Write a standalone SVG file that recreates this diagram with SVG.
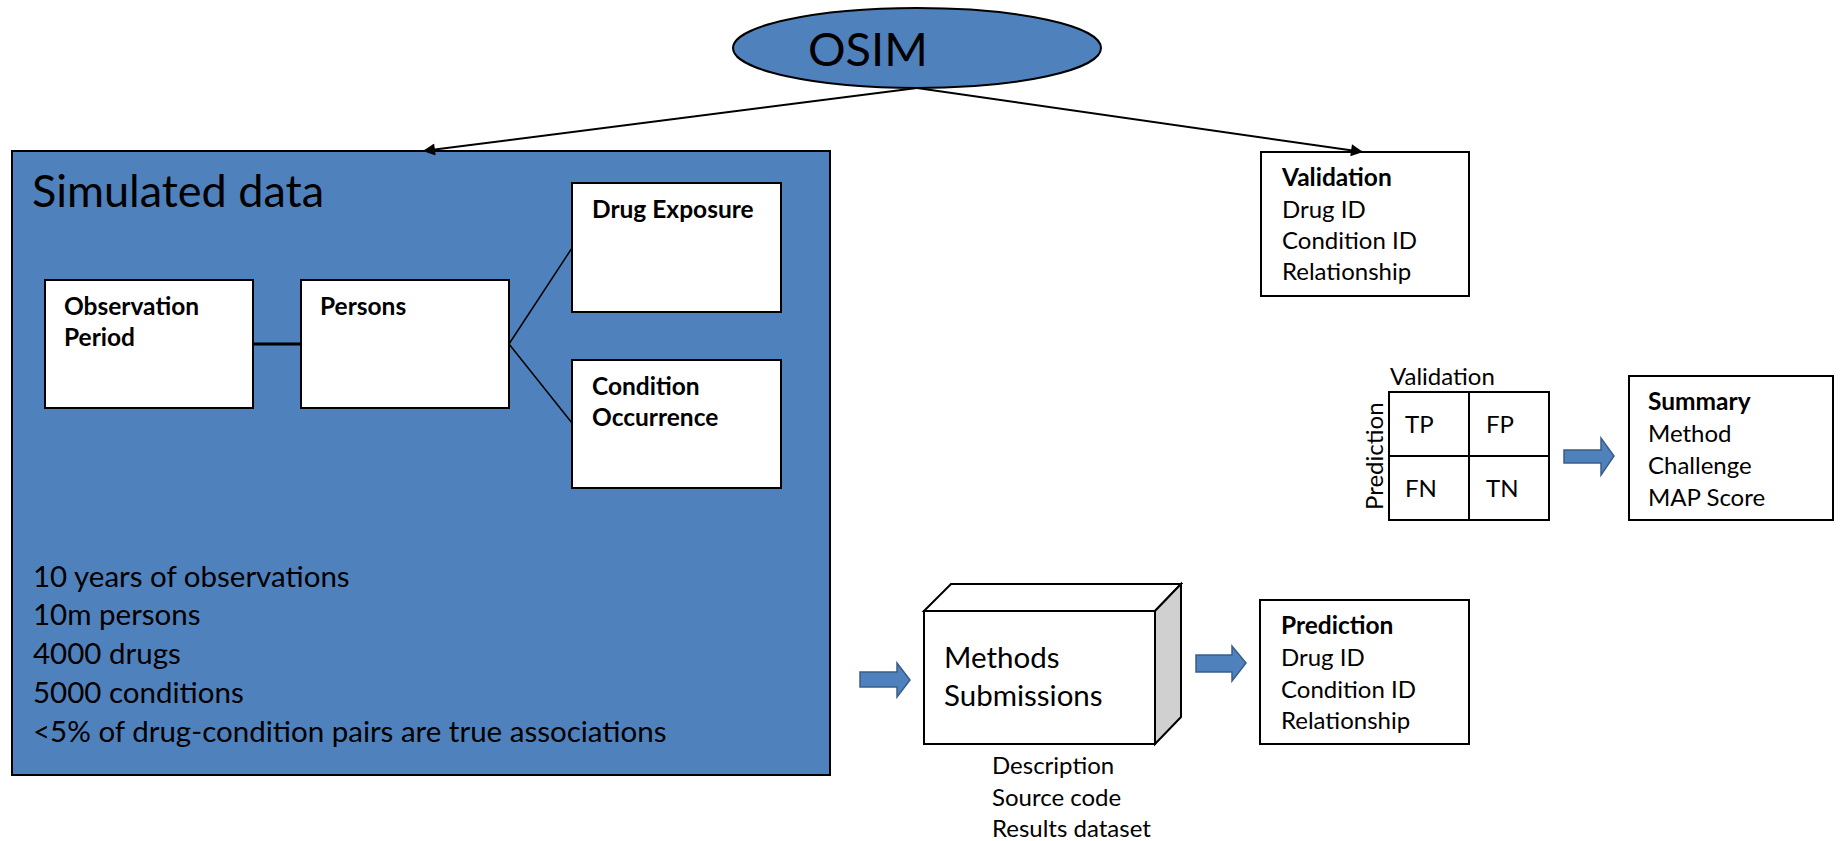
<svg xmlns="http://www.w3.org/2000/svg" width="1841" height="841" viewBox="0 0 1841 841">
  <style>
    text { font-family: Lato, "Liberation Sans", sans-serif; fill: #000; }
    .box { fill: #fff; stroke: #000; stroke-width: 2; }
    .blue { fill: #4F81BD; stroke: #000; stroke-width: 2; }
    .blk { fill: #4F81BD; stroke: #385D8A; stroke-width: 1.5; }
    .b { font-weight: bold; font-size: 24.5px; }
    .t { font-size: 24px; }
    .conn { stroke: #000; fill: none; }
  </style>
  <defs>
    <marker id="arr" viewBox="0 0 10 10" refX="10" refY="5" markerWidth="8" markerHeight="6" markerUnits="strokeWidth" orient="auto">
      <path d="M0,0 L10,5 L0,10 z" fill="#000"/>
    </marker>
  </defs>

  <!-- OSIM root -->
  <g id="osim">
    <ellipse cx="917" cy="48" rx="184" ry="40" class="blue"/>
    <text x="808" y="66" font-size="47">OSIM</text>
  </g>

  <!-- Simulated data container -->
  <g id="simulated-data">
    <rect x="12" y="151" width="818" height="624" class="blue"/>
    <text x="32" y="207" font-size="45">Simulated data</text>
    <g font-size="29.5">
      <text x="33" y="587">10 years of observations</text>
      <text x="33" y="625">10m persons</text>
      <text x="33" y="664">4000 drugs</text>
      <text x="33" y="703">5000 conditions</text>
      <text x="33" y="742">&lt;5% of drug-condition pairs are true associations</text>
    </g>
  </g>

  <g id="observation-period">
    <rect x="45" y="280" width="208" height="128" class="box"/>
    <text x="64" y="315" class="b">Observation</text>
    <text x="64" y="346" class="b">Period</text>
  </g>

  <g id="persons">
    <rect x="301" y="280" width="208" height="128" class="box"/>
    <text x="320" y="315" class="b">Persons</text>
  </g>

  <g id="drug-exposure">
    <rect x="572" y="183" width="209" height="129" class="box"/>
    <text x="592" y="218" class="b">Drug Exposure</text>
  </g>

  <g id="condition-occurrence">
    <rect x="572" y="360" width="209" height="128" class="box"/>
    <text x="592" y="395" class="b">Condition</text>
    <text x="592" y="426" class="b">Occurrence</text>
  </g>

  <g id="validation">
    <rect x="1261" y="152" width="208" height="144" class="box"/>
    <text x="1282" y="186" class="b">Validation</text>
    <text x="1282" y="218" class="t">Drug ID</text>
    <text x="1282" y="249" class="t">Condition ID</text>
    <text x="1282" y="280" class="t">Relationship</text>
  </g>

  <g id="confusion-matrix">
    <text x="1390" y="385" class="t">Validation</text>
    <text transform="translate(1383,510) rotate(-90)" class="t">Prediction</text>
    <rect x="1389" y="392" width="160" height="128" class="box"/>
    <line x1="1469" y1="392" x2="1469" y2="520" stroke="#000" stroke-width="2"/>
    <line x1="1389" y1="456" x2="1549" y2="456" stroke="#000" stroke-width="2"/>
    <text x="1405" y="433" class="t">TP</text>
    <text x="1486" y="433" class="t">FP</text>
    <text x="1405" y="497" class="t">FN</text>
    <text x="1486" y="497" class="t">TN</text>
  </g>

  <g id="summary">
    <rect x="1629" y="376" width="204" height="144" class="box"/>
    <text x="1648" y="410" class="b">Summary</text>
    <text x="1648" y="442" class="t">Method</text>
    <text x="1648" y="474" class="t">Challenge</text>
    <text x="1648" y="506" class="t">MAP Score</text>
  </g>

  <g id="methods-submissions">
    <polygon points="924,611 951,584 1181,584 1155,611" fill="#fff" stroke="#000" stroke-width="2"/>
    <polygon points="1155,611 1181,584 1181,717 1155,744" fill="#D0D0D0" stroke="#000" stroke-width="2"/>
    <rect x="924" y="611" width="231" height="133" class="box"/>
    <text x="944" y="668" font-size="29.5">Methods</text>
    <text x="944" y="706" font-size="29.5">Submissions</text>
    <text x="992" y="774" class="t">Description</text>
    <text x="992" y="806" class="t">Source code</text>
    <text x="992" y="837" class="t">Results dataset</text>
  </g>

  <g id="prediction">
    <rect x="1260" y="600" width="209" height="144" class="box"/>
    <text x="1281" y="634" class="b">Prediction</text>
    <text x="1281" y="666" class="t">Drug ID</text>
    <text x="1281" y="698" class="t">Condition ID</text>
    <text x="1281" y="729" class="t">Relationship</text>
  </g>

  <g id="connectors">
    <line x1="917" y1="88" x2="423" y2="151" class="conn" stroke-width="2" marker-end="url(#arr)"/>
    <line x1="917" y1="88" x2="1363" y2="152" class="conn" stroke-width="2" marker-end="url(#arr)"/>
    <line x1="253" y1="344" x2="301" y2="344" class="conn" stroke-width="3"/>
    <line x1="509" y1="344" x2="572" y2="248" class="conn" stroke-width="1.5"/>
    <line x1="509" y1="344" x2="572" y2="423" class="conn" stroke-width="1.5"/>
    <!-- block arrows -->
    <polygon points="860,672 897,672 897,663 910,680 897,697 897,687 860,687" class="blk"/>
    <polygon points="1196,655 1232,655 1232,646 1246,663 1232,681 1232,672 1196,672" class="blk"/>
    <polygon points="1564,450 1601,450 1601,438 1614,456 1601,475 1601,463 1564,463" class="blk"/>
  </g>
</svg>
